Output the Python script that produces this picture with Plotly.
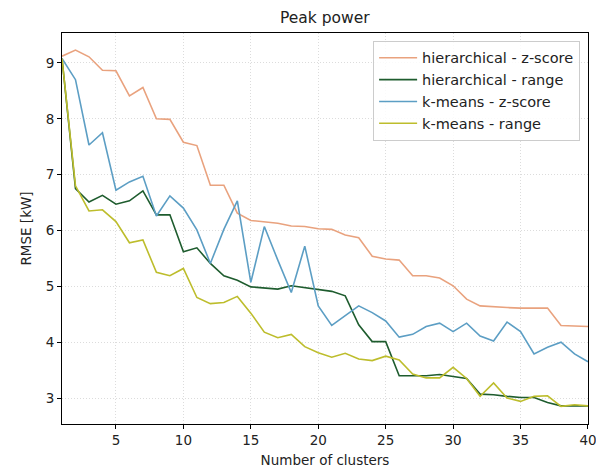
import plotly.graph_objects as go

clusters = list(range(1, 41))

hier_zscore = [9.12, 9.23, 9.11, 8.87, 8.86, 8.41, 8.56, 8.00, 7.99, 7.58,
               7.52, 6.81, 6.81, 6.31, 6.18, 6.15, 6.13, 6.08, 6.07, 6.03,
               6.02, 5.92, 5.87, 5.54, 5.49, 5.47, 5.19, 5.19, 5.15, 5.01,
               4.77, 4.65, 4.63, 4.62, 4.61, 4.61, 4.61, 4.30, 4.29, 4.28]

hier_range = [9.08, 6.75, 6.51, 6.63, 6.47, 6.53, 6.71, 6.28, 6.28, 5.62,
              5.69, 5.41, 5.19, 5.11, 4.99, 4.97, 4.95, 5.01, 4.98, 4.95,
              4.91, 4.83, 4.31, 4.01, 4.01, 3.40, 3.40, 3.40, 3.42, 3.38,
              3.35, 3.07, 3.06, 3.03, 3.01, 3.01, 2.92, 2.86, 2.86, 2.86]

kmeans_zscore = [9.08, 8.70, 7.53, 7.75, 6.72, 6.87, 6.97, 6.26, 6.62, 6.40,
                 6.01, 5.41, 6.02, 6.53, 5.07, 6.07, 5.47, 4.89, 5.72, 4.65,
                 4.30, 4.47, 4.65, 4.53, 4.38, 4.09, 4.14, 4.28, 4.34, 4.19,
                 4.34, 4.11, 4.02, 4.36, 4.19, 3.79, 3.91, 4.00, 3.79, 3.65]

kmeans_range = [9.08, 6.80, 6.35, 6.37, 6.16, 5.78, 5.83, 5.25, 5.19, 5.32,
                4.80, 4.69, 4.71, 4.82, 4.52, 4.18, 4.08, 4.14, 3.92, 3.81,
                3.73, 3.80, 3.70, 3.67, 3.75, 3.68, 3.43, 3.36, 3.36, 3.55,
                3.35, 3.03, 3.27, 3.00, 2.94, 3.03, 3.04, 2.85, 2.88, 2.86]

series = [
    ("hierarchical - z-score", hier_zscore, "#E9A27E"),
    ("hierarchical - range", hier_range, "#1E5C2E"),
    ("k-means - z-score", kmeans_zscore, "#5C9EC4"),
    ("k-means - range", kmeans_range, "#BDBD2C"),
]

x_ticks = [5, 10, 15, 20, 25, 30, 35, 40]
y_ticks = [3, 4, 5, 6, 7, 8, 9]

fig = go.Figure()
for name, values, color in series:
    fig.add_trace(go.Scatter(
        x=clusters, y=values, mode="lines", name=name,
        line=dict(color=color, width=1.6),
    ))

font_family = "DejaVu Sans"
axis_common = dict(
    showline=True, linecolor="black", linewidth=1, mirror=True,
    ticks="outside", ticklen=4, tickcolor="black",
    showgrid=True, gridcolor="#dcdcdc", griddash="1px,2px", gridwidth=1,
    zeroline=False, tickfont=dict(size=13.5, color="#222"),
    automargin=False, ticklabeloverflow="allow",
)

fig.update_layout(
    width=596, height=472,
    margin=dict(l=62, r=8, t=33, b=48),
    paper_bgcolor="white", plot_bgcolor="white",
    font=dict(family=font_family, color="#222"),
    title=dict(text="Peak power", x=0.545, xanchor="center",
               y=1 - 18 / 472, yanchor="middle",
               font=dict(size=15.5, color="#222")),
    xaxis=dict(range=[0.9999, 40.0005], tickvals=x_ticks,
               title=dict(text="Number of clusters", font=dict(size=13.5), standoff=8),
               **axis_common),
    yaxis=dict(range=[2.535, 9.536], tickvals=y_ticks,
               title=dict(text="RMSE [kW]", font=dict(size=13.5), standoff=10),
               **axis_common),
    legend=dict(
        x=0.985, y=0.98, xanchor="right", yanchor="top",
        bgcolor="rgba(255,255,255,0.85)", bordercolor="#cccccc", borderwidth=1,
        font=dict(size=14.5, color="#222"), tracegroupgap=2, itemwidth=38,
    ),
)

fig.write_html("out.html")
